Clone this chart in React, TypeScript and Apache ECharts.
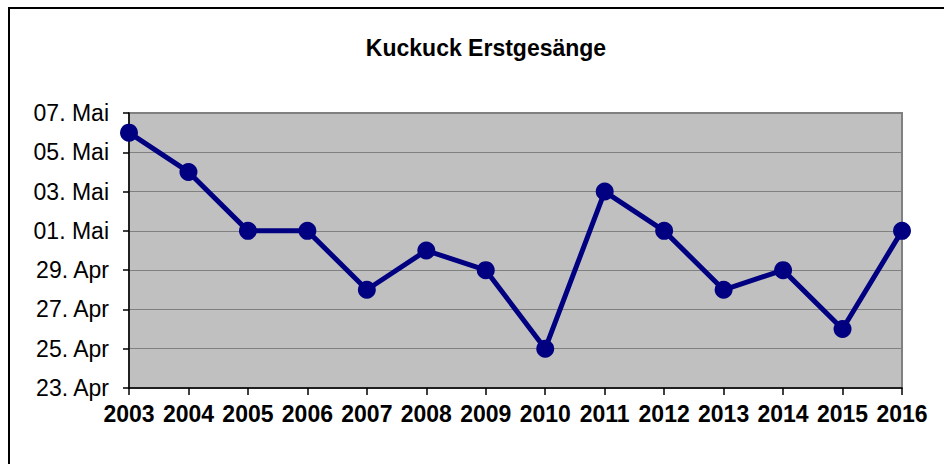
import React, { useEffect, useRef } from "react";
import * as echarts from "echarts";

// Years of observation
const years = ["2003", "2004", "2005", "2006", "2007", "2008", "2009", "2010", "2011", "2012", "2013", "2014", "2015", "2016"];
// First cuckoo song: days counted from 1 April (1 April = 0, 1 May = 30)
const firstSongDay = [35, 33, 30, 30, 27, 29, 28, 24, 32, 30, 27, 28, 25, 30];
// y-axis range (23. Apr .. 07. Mai) and step
const yMin = 22;
const yMax = 36;
const yStep = 2;

const pad = (n: number) => (n < 10 ? "0" + n : "" + n);
const dayLabel = (v: number) => (v < 30 ? pad(v + 1) + ". Apr" : pad(v - 29) + ". Mai");

const FONT = "'Liberation Sans', Arial, sans-serif";

export default function App() {
  const ref = useRef<HTMLDivElement>(null);
  useEffect(() => {
    if (!ref.current) return;
    const chart = echarts.init(ref.current, null, { renderer: "svg" });
    chart.setOption({
      animation: false,
      backgroundColor: "#ffffff",
      title: {
        text: "Kuckuck Erstgesänge",
        left: 481,
        textAlign: "center",
        top: 31,
        textStyle: { fontFamily: FONT, fontSize: 23, fontWeight: "bold", color: "#000" },
      },
      graphic: [
        {
          type: "rect",
          shape: { x: 9, y: 8, width: 1000, height: 500 },
          style: { fill: "none", stroke: "#000", lineWidth: 2 },
          silent: true,
        },
      ],
      grid: {
        left: 129,
        right: 42,
        top: 113,
        bottom: 76,
        show: true,
        backgroundColor: "#C0C0C0",
        borderColor: "#808080",
        borderWidth: 2,
      },
      xAxis: {
        type: "category",
        data: years,
        boundaryGap: false,
        axisLine: { show: true, lineStyle: { color: "#000", width: 1.5 } },
        axisTick: { show: true, interval: 0, length: 7, lineStyle: { color: "#000", width: 1.5 } },
        axisLabel: {
          interval: 0,
          hideOverlap: false,
          fontFamily: FONT,
          fontSize: 23,
          fontWeight: "bold",
          color: "#000",
          margin: 14,
        },
        splitLine: { show: false },
      },
      yAxis: {
        type: "value",
        min: yMin,
        max: yMax,
        interval: yStep,
        axisLine: { show: true, lineStyle: { color: "#000", width: 1.5 } },
        axisTick: { show: true, length: 6, lineStyle: { color: "#000", width: 1.5 } },
        axisLabel: {
          fontFamily: FONT,
          fontSize: 23,
          color: "#000",
          margin: 20,
          formatter: (v: number) => dayLabel(v),
        },
        splitLine: { show: true, lineStyle: { color: "#808080", width: 1 } },
      },
      series: [
        {
          type: "line",
          data: firstSongDay,
          symbol: "circle",
          symbolSize: 18,
          lineStyle: { color: "#000080", width: 5 },
          itemStyle: { color: "#000080" },
        },
      ],
    });
    return () => chart.dispose();
  }, []);
  return <div ref={ref} style={{ position: "fixed", left: 0, top: 0, width: 944, height: 464 }} />;
}
